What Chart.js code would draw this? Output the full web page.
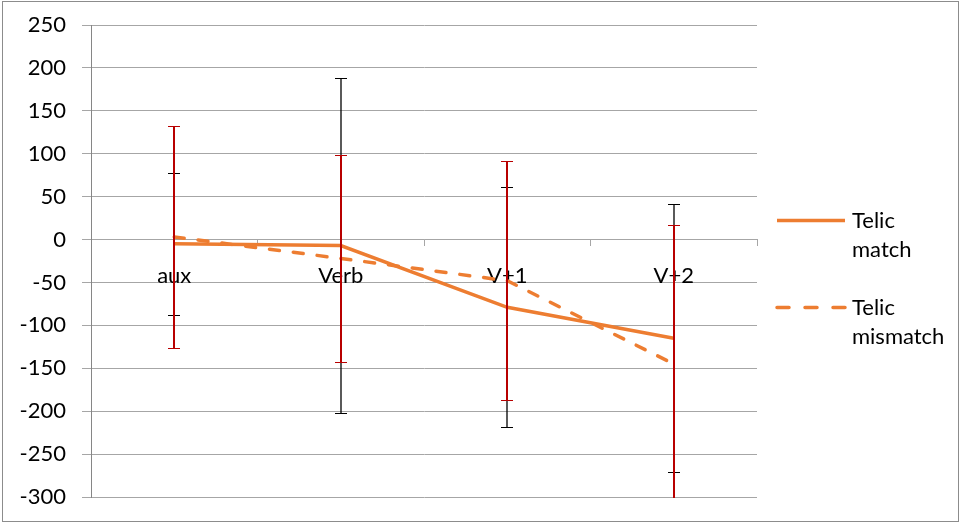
<!DOCTYPE html>
<html>
<head>
<meta charset="utf-8">
<script src="https://cdn.jsdelivr.net/npm/chart.js@4.4.1/dist/chart.umd.min.js"></script>
<style>
  html, body { margin: 0; padding: 0; background: #fff; }
  #wrap { width: 960px; height: 522px; }
</style>
</head>
<body>
<div id="wrap"><canvas id="chart" width="960" height="522"></canvas></div>
<script>
// Data
const categories = ["aux", "Verb", "V+1", "V+2"]
const telicMatch = [-5, -7, -79, -115]
const telicMatchErr = [83, 195, 140, 156]
const telicMismatch = [3, -22, -48, -145]
const telicMismatchErr = [129, 121, 139, 162]
const yMin = -300
const yMax = 250
const yStep = 50

const orange = "#ED7D31"
const gridGray = "#a6a6a6"

// Outer frame of the chart
const frame = {
  id: "frame",
  beforeDraw(chart) {
    const ctx = chart.ctx
    ctx.save()
    ctx.fillStyle = "#fff"
    ctx.fillRect(0, 0, chart.width, chart.height)
    ctx.strokeStyle = "#8c8c8c"
    ctx.lineWidth = 1
    ctx.strokeRect(2.5, 1.5, 956, 520)
    ctx.restore()
  }
}

// Error bars, drawn over the lines (red after black)
const errorBars = {
  id: "errorBars",
  afterDatasetsDraw(chart) {
    const { ctx, chartArea, scales } = chart
    ctx.save()
    ctx.beginPath()
    ctx.rect(chartArea.left, chartArea.top, chartArea.right - chartArea.left, chartArea.bottom - chartArea.top + 1)
    ctx.clip()
    chart.data.datasets.forEach((ds) => {
      ds.data.forEach((v, i) => {
        const px = Math.round(scales.x.getPixelForValue(i))
        const top = Math.round(scales.y.getPixelForValue(v + ds.errors[i])) + 0.5
        const bot = Math.round(scales.y.getPixelForValue(v - ds.errors[i])) + 0.5
        ctx.strokeStyle = ds.errorColor
        ctx.lineWidth = ds.errorWidth
        ctx.beginPath()
        ctx.moveTo(px, top)
        ctx.lineTo(px, bot)
        ctx.stroke()
        ctx.lineWidth = 1
        ctx.beginPath()
        ctx.moveTo(px - 6, top)
        ctx.lineTo(px + 6, top)
        ctx.moveTo(px - 6, bot)
        ctx.lineTo(px + 6, bot)
        ctx.stroke()
      })
    })
    ctx.restore()
  }
}

// Legend on the right, labels wrapped on two lines
const sideLegend = {
  id: "sideLegend",
  afterDraw(chart) {
    const { ctx, chartArea } = chart
    const x0 = chartArea.right + 18
    const rows = [220, 307]
    ctx.save()
    ctx.font = "22px Lato"
    ctx.fillStyle = "#000"
    ctx.textBaseline = "middle"
    chart.data.datasets.forEach((ds, k) => {
      const y = rows[k] + 0.5
      ctx.strokeStyle = ds.borderColor
      ctx.lineWidth = ds.borderWidth
      ctx.lineCap = ds.borderDash.length ? "round" : "butt"
      ctx.setLineDash(ds.borderDash.length ? [12, 16] : [])
      ctx.beginPath()
      ctx.moveTo(x0 + 2, y)
      ctx.lineTo(x0 + 70, y)
      ctx.stroke()
      ctx.setLineDash([])
      ds.legendLines.forEach((t, j) => {
        ctx.fillText(t, x0 + 77, rows[k] + 1 + j * 29)
      })
    })
    ctx.restore()
  }
}

const ctx = document.getElementById("chart").getContext("2d")

new Chart(ctx, {
  type: "line",
  data: {
    labels: categories,
    datasets: [
      {
        label: "Telic match",
        legendLines: ["Telic", "match"],
        data: telicMatch,
        errors: telicMatchErr,
        errorColor: "#000000",
        errorWidth: 1.3,
        borderColor: orange,
        borderWidth: 3.5,
        borderDash: [],
        pointRadius: 0,
        tension: 0
      },
      {
        label: "Telic mismatch",
        legendLines: ["Telic", "mismatch"],
        data: telicMismatch,
        errors: telicMismatchErr,
        errorColor: "#b80000",
        errorWidth: 2,
        borderColor: orange,
        borderWidth: 3.5,
        borderDash: [10, 14],
        borderCapStyle: "round",
        pointRadius: 0,
        tension: 0
      }
    ]
  },
  options: {
    responsive: false,
    animation: false,
    events: [],
    layout: {
      padding: { left: 0, top: 25, right: 203, bottom: 25 }
    },
    plugins: {
      legend: { display: false },
      tooltip: { enabled: false }
    },
    scales: {
      x: {
        type: "category",
        position: { y: 0 },
        offset: true,
        grid: {
          offset: true,
          drawOnChartArea: false,
          drawTicks: true,
          tickLength: 6,
          color: gridGray
        },
        border: { display: true, color: gridGray },
        ticks: {
          color: "#000",
          padding: 17,
          maxRotation: 0,
          font: { family: "Lato", size: 22 }
        }
      },
      y: {
        min: yMin,
        max: yMax,
        afterFit(scale) {
          scale.width = 91
          scale.paddingTop = 0
          scale.paddingBottom = 0
        },
        grid: {
          color: gridGray,
          tickLength: 9
        },
        border: { display: true, color: "#868686" },
        ticks: {
          stepSize: yStep,
          color: "#000",
          padding: 16,
          font: { family: "Lato", size: 22 }
        }
      }
    }
  },
  plugins: [frame, errorBars, sideLegend]
})
</script>
</body>
</html>
